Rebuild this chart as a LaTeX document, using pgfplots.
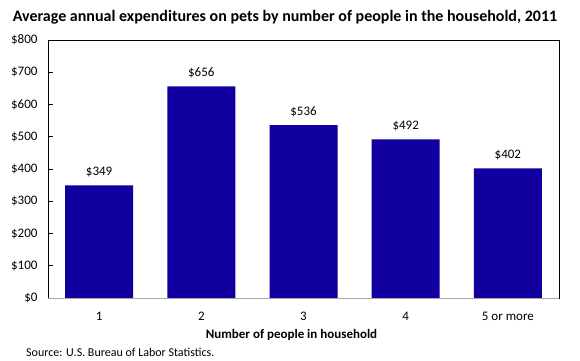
\documentclass[border=0pt]{standalone}
\usepackage{pgfplots}
\pgfplotsset{compat=1.18}
\usepackage{fontspec}
\setmainfont{Carlito}
\definecolor{barblue}{RGB}{17,0,159}
\begin{document}
\begin{tikzpicture}
\useasboundingbox (-48pt,-62pt) rectangle (532pt,298pt);
\begin{axis}[
  at={(0pt,0pt)}, anchor=south west,
  scale only axis, width=511pt, height=258pt,
  xmin=0.5, xmax=5.5, ymin=0, ymax=800,
  ytick={0,100,...,800},
  yticklabel={\$\pgfmathprintnumber[assume math mode=true]{\tick}},
  xtick={1,2,3,4,5}, xticklabels={1,2,3,4,5 or more},
  xtick style={draw=none},
  ytick pos=left, tick align=inside, major tick length=5pt,
  ytick style={black, line width=0.8pt},
  axis line style={black, line width=0.8pt},
  ticklabel style={font=\fontsize{13}{15}\selectfont},
  xticklabel style={anchor=base, yshift=-17.5pt},
  yticklabel style={xshift=-7pt},
  ybar, bar width=68pt,
  nodes near coords={\$\pgfmathprintnumber[assume math mode=true]{\pgfplotspointmeta}},
  every node near coord/.append style={font=\fontsize{13}{15}\selectfont, black, yshift=5pt},
]
\addplot[fill=barblue, draw=none] coordinates {(1,349) (2,656) (3,536) (4,492) (5,402)};
\draw[gray!70, line width=1pt] (rel axis cs:0,0) -- (rel axis cs:1,0);
\end{axis}
\node[font=\bfseries\fontsize{16}{19}\selectfont, anchor=base] at (237pt,277pt) {Average annual expenditures on pets by number of people in the household, 2011};
\node[font=\bfseries\fontsize{13}{15}\selectfont, anchor=base] at (243.5pt,-40pt) {Number of people in household};
\node[font=\fontsize{12}{14}\selectfont, anchor=base west, inner sep=0pt] at (-22pt,-58pt) {Source: U.S. Bureau of Labor Statistics.};
\end{tikzpicture}
\end{document}
